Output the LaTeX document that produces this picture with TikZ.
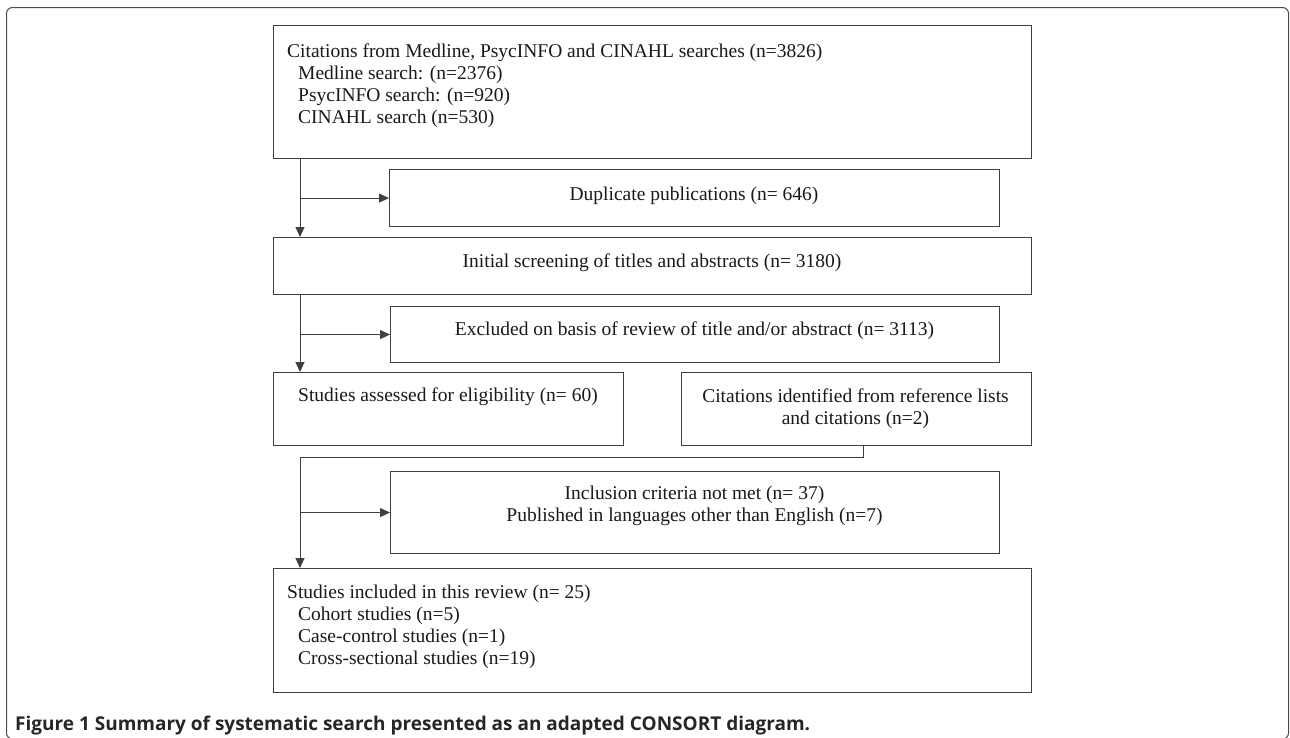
\documentclass[tikz,border=0pt]{standalone}
\usepackage{fontspec}
\setmainfont{Liberation Serif}
\newfontfamily\capfont{Open Sans}
\usetikzlibrary{arrows.meta}
\begin{document}
\begin{tikzpicture}[x=1pt,y=-1pt,
  box/.style={draw=black!75,line width=1.1pt,inner sep=0pt,anchor=north west},
  txt/.style={font=\fontsize{19.5}{22}\selectfont,text=black!90,inner sep=0pt,align=center},
  conn/.style={draw=black!75,line width=1pt,-{Triangle[length=10pt,width=9pt]}}]
\useasboundingbox (0,0) rectangle (1290,737);
% outer frame
\draw[black!70,line width=1pt,rounded corners=6pt] (6.5,7.5) rectangle (1288.5,739);
% boxes
\node[box,minimum width=758pt,minimum height=133pt] (top) at (273,25) {};
\node[box,minimum width=610pt,minimum height=57pt] (dup) at (389,169) {};
\node[box,minimum width=758pt,minimum height=57pt] (init) at (273,237) {};
\node[box,minimum width=609pt,minimum height=56pt] (excl) at (390,306) {};
\node[box,minimum width=350pt,minimum height=73pt] (assess) at (273,372) {};
\node[box,minimum width=350pt,minimum height=73pt] (cit) at (681,372) {};
\node[box,minimum width=609pt,minimum height=82pt] (incl) at (390,471) {};
\node[box,minimum width=758pt,minimum height=124pt] (final) at (273,568) {};
% texts
\node[txt,anchor=base west] (t1) at (287,57) {Citations from Medline, PsycINFO and CINAHL searches (n=3826)};
\node[txt,anchor=base west] (t2) at (298,79) {Medline search: (n=2376)};
\node[txt,anchor=base west] (t3) at (298,101) {PsycINFO search: (n=920)};
\node[txt,anchor=base west] (t4) at (298,123) {CINAHL search (n=530)};
\node[txt] (tdup) at (694,196) {Duplicate publications (n= 646)};
\node[txt] (tinit) at (652,263) {Initial screening of titles and abstracts (n= 3180)};
\node[txt] (texcl) at (694.5,331) {Excluded on basis of review of title and/or abstract (n= 3113)};
\node[txt] (tassess) at (448,397) {Studies assessed for eligibility (n= 60)};
\node[txt] (tcit) at (855.5,409) {Citations identified from reference lists\\and citations (n=2)};
\node[txt] (tincl) at (694.5,506) {Inclusion criteria not met (n= 37)\\Published in languages other than English (n=7)};
\node[txt,anchor=base west] (f1) at (287,598) {Studies included in this review (n= 25)};
\node[txt,anchor=base west] (f2) at (298,620) {Cohort studies (n=5)};
\node[txt,anchor=base west] (f3) at (298,642) {Case-control studies (n=1)};
\node[txt,anchor=base west] (f4) at (298,664) {Cross-sectional studies (n=19)};
% caption
\node[anchor=west,inner sep=0pt,text=black!85,font=\capfont\bfseries\fontsize{19}{21}\selectfont] (cap) at (15,726) {Figure 1 Summary of systematic search presented as an adapted CONSORT diagram.};
% connectors
\coordinate (tx) at (300,0);
\coordinate (corner) at (300,457);
\draw[conn] ([xshift=27pt]top.south west) -- ([xshift=27pt]init.north west);
\draw[conn] (dup.west -| tx) -- (dup.west);
\draw[conn] ([xshift=27pt]init.south west) -- ([xshift=27pt]assess.north west);
\draw[conn] (excl.west -| tx) -- (excl.west);
\draw[conn] ([xshift=182pt]cit.south west) |- (corner) -- ([xshift=27pt]final.north west);
\draw[conn] (incl.west -| tx) -- (incl.west);
\end{tikzpicture}
\end{document}
